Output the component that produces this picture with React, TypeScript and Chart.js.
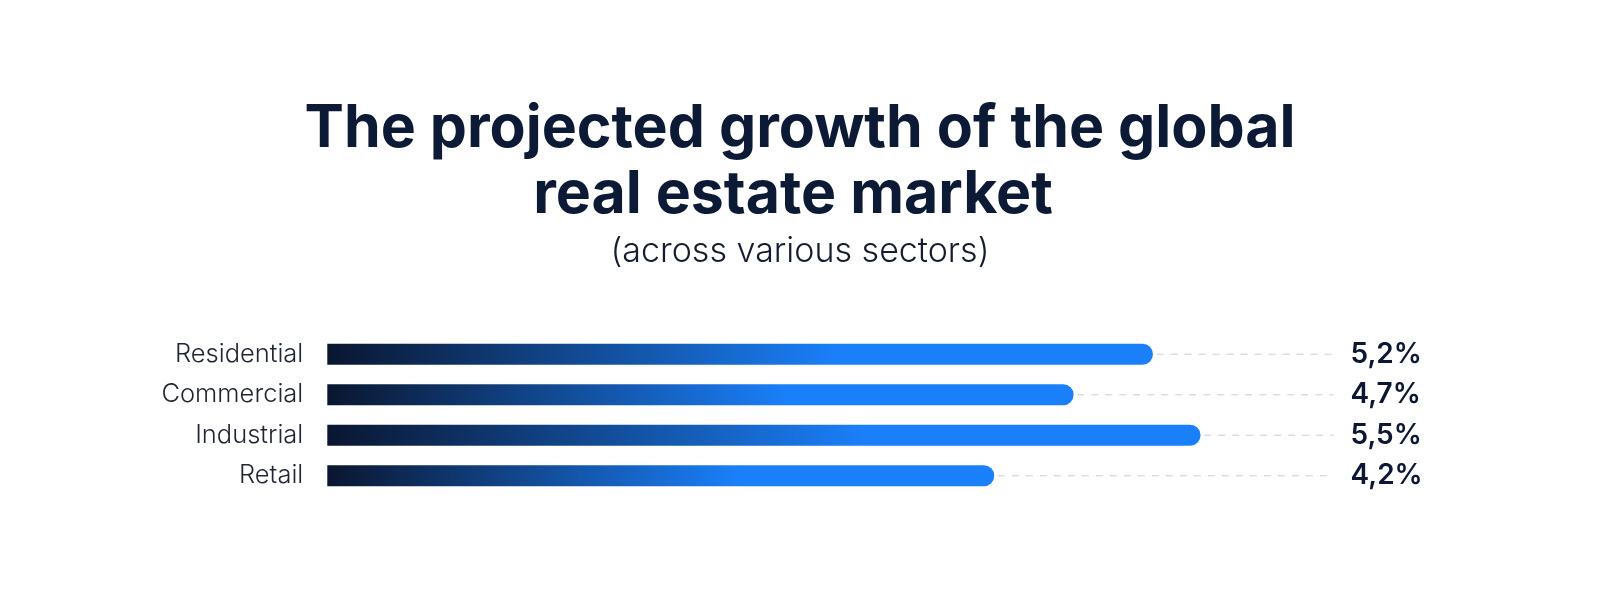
import React, { useEffect, useRef } from 'react';
import { Chart, registerables } from 'chart.js';

Chart.register(...registerables);

const categories = ['Residential', 'Commercial', 'Industrial', 'Retail'];
const growth = [5.2, 4.7, 5.5, 4.2];
const titleLines = ['The projected growth of the global', 'real estate market '];
const subtitleText = '(across various sectors)';
const X_MAX = 6.34;

const formatValue = (v: number) => v.toFixed(1).replace('.', ',') + '%';

const titlePlugin = {
  id: 'headerText',
  beforeDraw(chart: any) {
    const { ctx, width } = chart;
    ctx.save();
    ctx.fillStyle = '#0d1a35';
    ctx.textAlign = 'center';
    ctx.textBaseline = 'alphabetic';
    ctx.font = '700 59px Inter';
    ctx.fillText(titleLines[0], width / 2, 139);
    ctx.fillText(titleLines[1], width / 2, 205);
    ctx.fillStyle = '#141c2e';
    ctx.font = '300 34px Inter';
    ctx.fillText(subtitleText, width / 2, 254);
    ctx.restore();
  },
};

const leaderPlugin = {
  id: 'leaders',
  beforeDatasetsDraw(chart: any) {
    const { ctx, chartArea } = chart;
    const meta = chart.getDatasetMeta(0);
    ctx.save();
    ctx.strokeStyle = '#d3d5d9';
    ctx.lineWidth = 1.2;
    ctx.setLineDash([7, 7]);
    meta.data.forEach((bar: any) => {
      ctx.beginPath();
      ctx.moveTo(bar.x + 4, bar.y);
      ctx.lineTo(chartArea.right, bar.y);
      ctx.stroke();
    });
    ctx.restore();
  },
  afterDatasetsDraw(chart: any) {
    const { ctx, chartArea } = chart;
    const meta = chart.getDatasetMeta(0);
    ctx.save();
    ctx.fillStyle = '#0d1633';
    ctx.font = '600 28px Inter';
    ctx.textAlign = 'left';
    ctx.textBaseline = 'middle';
    meta.data.forEach((bar: any, i: number) => {
      ctx.fillText(formatValue(growth[i]), chartArea.right + 17, bar.y);
    });
    ctx.restore();
  },
};

export default function App() {
  const canvasRef = useRef<HTMLCanvasElement | null>(null);

  useEffect(() => {
    if (!canvasRef.current) return;
    const chart = new Chart(canvasRef.current, {
      type: 'bar',
      data: {
        labels: categories,
        datasets: [
          {
            data: growth,
            barThickness: 20.5,
            borderRadius: 10.25,
            borderSkipped: 'start',
            backgroundColor: (c: any) => {
              const ch = c.chart;
              if (!ch.chartArea || c.dataIndex === undefined) return '#1a80fa';
              const xs = ch.scales.x;
              const x0 = xs.getPixelForValue(0);
              const x1 = xs.getPixelForValue(growth[c.dataIndex]);
              const g = ch.ctx.createLinearGradient(x0, 0, x1, 0);
              g.addColorStop(0, '#0a1630');
              g.addColorStop(0.62, '#1a80fa');
              g.addColorStop(1, '#1a80fa');
              return g;
            },
          },
        ],
      },
      options: {
        indexAxis: 'y',
        responsive: true,
        maintainAspectRatio: false,
        animation: false,
        layout: { padding: { top: 326, bottom: 100, left: 0, right: 258.5 } },
        plugins: {
          legend: { display: false },
          tooltip: { enabled: false },
          title: { display: false },
        },
        scales: {
          x: { display: false, min: 0, max: X_MAX },
          y: {
            grid: { display: false, drawTicks: false },
            border: { display: false },
            ticks: {
              padding: 24,
              color: '#1f2533',
              font: { family: 'Inter', size: 25.5, weight: 300 },
            },
            afterFit: (s: any) => {
              s.width = 319.3;
            },
          },
        },
      },
      plugins: [titlePlugin, leaderPlugin],
    } as any);
    return () => chart.destroy();
  }, []);

  return (
    <div style={{ position: 'relative', width: 1584, height: 588 }}>
      <canvas ref={canvasRef} />
    </div>
  );
}
